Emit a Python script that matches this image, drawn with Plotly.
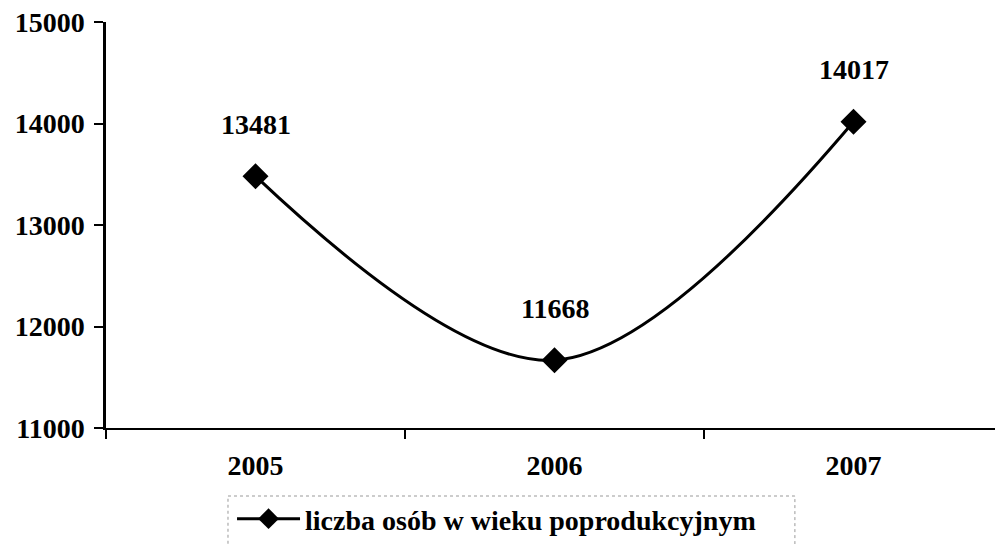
import plotly.graph_objects as go

years = ["2005", "2006", "2007"]
values = [13481, 11668, 14017]
value_labels = ["13481", "11668", "14017"]
y_ticks = [11000, 12000, 13000, 14000, 15000]
series_name = "liczba osób w wieku poprodukcyjnym"

FONT = "Liberation Serif"
BOLD = dict(family=FONT, size=28, color="black", weight="bold")

fig = go.Figure()
fig.add_trace(go.Scatter(
    x=years, y=values, name=series_name,
    mode="lines+markers",
    line=dict(color="black", width=3, shape="spline", smoothing=1.0),
    marker=dict(symbol="diamond", size=20, color="black"),
    showlegend=True,
))

for i, (y, t) in enumerate(zip(values, value_labels)):
    fig.add_annotation(x=i, y=y, xref="x", yref="y", text=t, showarrow=False,
                       yshift=52, font=BOLD)

fig.add_shape(type="rect", xref="paper", yref="paper",
              x0=0.136, x1=0.768, y0=-0.1675, y1=-0.33,
              line=dict(color="#999999", width=1, dash="dot"))

fig.update_layout(
    width=995, height=536,
    margin=dict(l=98, r=0, t=14, b=116),
    paper_bgcolor="white", plot_bgcolor="white",
    font=BOLD,
    xaxis=dict(
        type="category", range=[-0.5, 2.5],
        showline=True, linecolor="black", linewidth=2,
        ticks="outside", ticklen=9, tickwidth=2, tickcolor="black",
        tickson="boundaries", showgrid=False, zeroline=False,
        ticklabelstandoff=11, tickfont=BOLD, ticklabeloverflow="allow",
    ),
    yaxis=dict(
        range=[11000, 15000], tickvals=y_ticks, tickformat="d",
        showline=True, linecolor="black", linewidth=2.5,
        ticks="outside", ticklen=9, tickwidth=2, tickcolor="black",
        showgrid=False, zeroline=False,
        ticklabelstandoff=4, tickfont=BOLD, ticklabeloverflow="allow",
    ),
    legend=dict(
        orientation="h", x=0.1405, xanchor="left", y=-0.224, yanchor="middle",
        bgcolor="rgba(0,0,0,0)", itemwidth=63, font=BOLD,
    ),
)

fig.write_html("out.html")
